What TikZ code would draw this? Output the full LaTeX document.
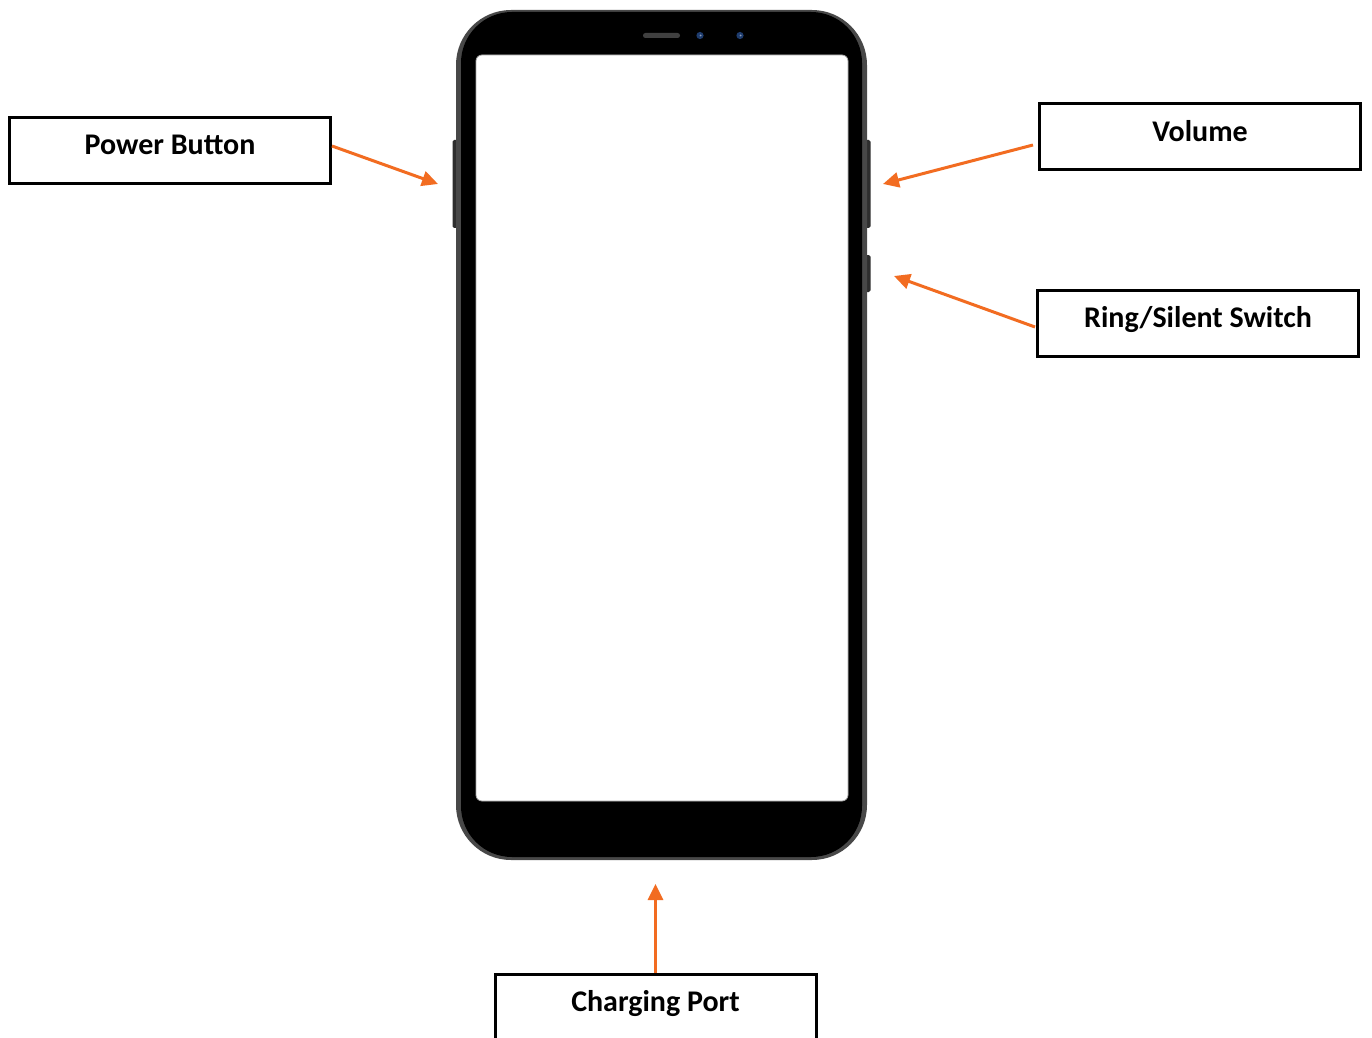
\documentclass[tikz,border=0pt]{standalone}
\usepackage{fontspec}
\setmainfont{Carlito}
\usetikzlibrary{arrows.meta,calc}
\definecolor{arrorange}{RGB}{242,108,33}
\definecolor{camblue}{RGB}{30,60,110}
\definecolor{bodyedge}{RGB}{72,72,72}
\begin{document}
\begin{tikzpicture}[x=0.5pt,y=-0.5pt,
  box/.style={draw=black,line width=1.5pt,fill=white,inner sep=0pt,anchor=north,
    minimum width=160.5pt,text height=18.5pt,text depth=14.5pt,
    font=\fontsize{15}{18}\selectfont\bfseries},
  pointer/.style={draw=arrorange,line width=1.5pt,-{Triangle[length=8pt,width=7.5pt]}},
  sidebtn/.style={fill=black!82,rounded corners=0.8pt}]
\useasboundingbox (0,0) rectangle (1372,1038);
\clip (0,0) rectangle (1372,1038);
\fill[white] (0,0) rectangle (1372,1038);
% side buttons
\fill[sidebtn] (452.5,140) rectangle (459,228);
\fill[sidebtn] (864,140) rectangle (870.5,228);
\fill[sidebtn] (864,255) rectangle (870.5,292);
% phone body
\fill[bodyedge,rounded corners=27.5pt] (456,10) rectangle (867,860);
\fill[black,rounded corners=25.5pt] (461,12) rectangle (862,857);
% screen
\fill[white,rounded corners=3pt] (476,55) rectangle (848,801);
\draw[black!35,line width=0.4pt,rounded corners=3pt] (476,55) rectangle (848,801);
% speaker and cameras
\fill[black!75,rounded corners=1.2pt] (643,33) rectangle (680,38);
\fill[camblue] (700,35.5) circle[radius=1.8pt];
\fill[camblue] (740,35.5) circle[radius=1.8pt];
\fill[camblue!50!white] (700.5,35.5) circle[radius=0.5pt];
\fill[camblue!50!white] (740.5,35.5) circle[radius=0.5pt];
% label boxes
\node[box] (pb) at (170,116.5) {Power Button};
\node[box] (vol) at (1200,102.5) {Volume};
\node[box] (ring) at (1198,288.5) {Ring/Silent Switch};
\node[box,text depth=22pt] (chg) at (655.5,972.5) {Charging Port};
% arrow targets
\coordinate (pbT) at (438,184);
\coordinate (volT) at (883,184);
\coordinate (ringT) at (894,276);
\coordinate (chgT) at (655.5,884);
% connectors
\draw[pointer] ([yshift=2.5pt]pb.east) -- (pbT);
\draw[pointer] ([xshift=-2.5pt,yshift=-4pt]vol.west) -- (volT);
\draw[pointer] ([xshift=-0.5pt,yshift=-2pt]ring.west) -- (ringT);
\draw[pointer] (chg.north) -- (chgT);
\end{tikzpicture}
\end{document}
